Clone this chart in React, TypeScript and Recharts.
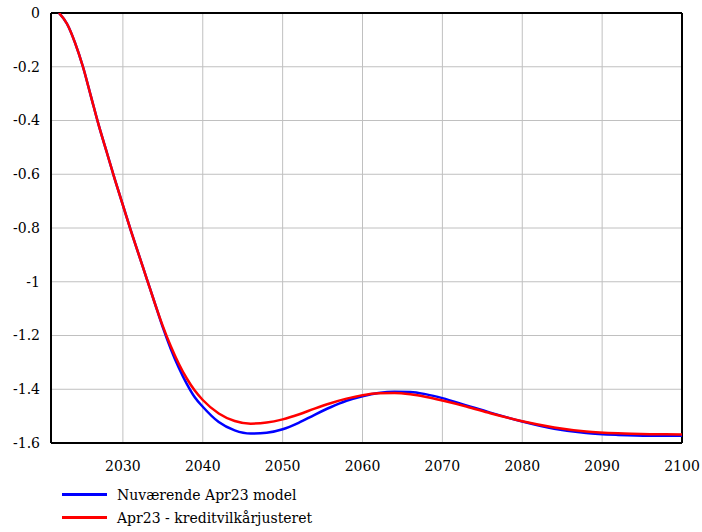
import { LineChart, Line, XAxis, YAxis, CartesianGrid, ReferenceLine } from 'recharts'

const years = [
  2022, 2023, 2024, 2025, 2026, 2027, 2028, 2029, 2030, 2031, 2032, 2033, 2034, 2035, 2036, 2037, 2038,
  2039, 2040, 2042, 2044, 2046, 2048, 2050, 2052, 2054, 2056, 2058, 2060, 2062, 2064, 2066, 2068, 2070,
  2073, 2076, 2080, 2084, 2088, 2092, 2096, 2100,
]

const current = [
  0, -0.04, -0.11, -0.2, -0.31, -0.42, -0.52, -0.62, -0.715, -0.81, -0.9, -0.99, -1.08, -1.17, -1.25,
  -1.32, -1.38, -1.43, -1.465, -1.522, -1.553, -1.565, -1.562, -1.549, -1.525, -1.495, -1.467, -1.443,
  -1.426, -1.414, -1.409, -1.41, -1.419, -1.433, -1.46, -1.487, -1.52, -1.547, -1.563, -1.57, -1.573,
  -1.573,
]

const adjusted = [
  0, -0.04, -0.11, -0.2, -0.31, -0.42, -0.52, -0.62, -0.715, -0.81, -0.9, -0.99, -1.08, -1.165, -1.24,
  -1.305, -1.36, -1.405, -1.44, -1.49, -1.518, -1.528, -1.524, -1.512, -1.494, -1.472, -1.452, -1.435,
  -1.422, -1.415, -1.414, -1.419, -1.429, -1.442, -1.464, -1.489, -1.519, -1.542, -1.557, -1.564, -1.567,
  -1.568,
]

const xTicks = [2030, 2040, 2050, 2060, 2070, 2080, 2090, 2100]
const yTicks = [0, -0.2, -0.4, -0.6, -0.8, -1, -1.2, -1.4, -1.6]

const seriesNames = ['Nuværende Apr23 model', 'Apr23 - kreditvilkårjusteret']
const seriesColors = ['#0000ff', '#ff0000']

const data = years.map((year, i) => ({
  year,
  current: current[i],
  adjusted: adjusted[i],
}))

const font = 'DejaVu Serif'

const App = (): JSX.Element => {
  return (
    <div style={{ position: 'absolute', left: 0, top: 0, width: 702, height: 532 }}>
      <LineChart
        width={702}
        height={532}
        data={data}
        margin={{ top: 13, right: 20, left: 0, bottom: 49 }}
      >
        <CartesianGrid stroke="#c0c0c0" />
        <XAxis
          dataKey="year"
          type="number"
          domain={[2021, 2100]}
          ticks={xTicks}
          tickLine={false}
          tickSize={6}
          tickMargin={12}
          height={40}
          axisLine={{ stroke: '#000', strokeWidth: 2 }}
          tick={{ fill: '#000', fontSize: 14, fontFamily: font }}
          allowDataOverflow
        />
        <YAxis
          type="number"
          domain={[-1.6, 0]}
          ticks={yTicks}
          width={51}
          tickLine={false}
          tickSize={6}
          tickMargin={5}
          tickFormatter={(v: number) => String(v)}
          axisLine={{ stroke: '#000', strokeWidth: 2 }}
          tick={{ fill: '#000', fontSize: 14, fontFamily: font }}
          allowDataOverflow
        />
        <ReferenceLine y={0} stroke="#000" strokeWidth={2} />
        <ReferenceLine x={2100} stroke="#000" strokeWidth={2} />
        <Line
          type="monotone"
          dataKey="current"
          name={seriesNames[0]}
          stroke={seriesColors[0]}
          strokeWidth={2.5}
          dot={false}
          isAnimationActive={false}
        />
        <Line
          type="monotone"
          dataKey="adjusted"
          name={seriesNames[1]}
          stroke={seriesColors[1]}
          strokeWidth={2.5}
          dot={false}
          isAnimationActive={false}
        />
      </LineChart>
      <div style={{ position: 'absolute', left: 62, top: 483, fontSize: 14, color: '#000', fontFamily: font }}>
        {seriesNames.map((name, i) => (
          <div key={name} style={{ display: 'flex', alignItems: 'center', height: 23 }}>
            <div style={{ width: 45, height: 3, background: seriesColors[i], marginRight: 10 }} />
            <span>{name}</span>
          </div>
        ))}
      </div>
    </div>
  )
}

export default App
